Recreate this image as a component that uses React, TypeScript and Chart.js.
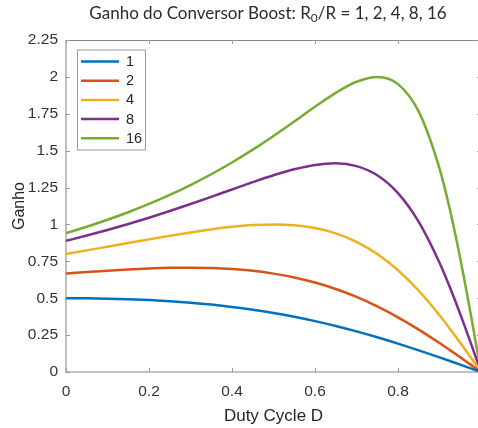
import { useEffect, useRef } from "react";
import { Chart, registerables } from "chart.js";

Chart.register(...registerables);

// Duty cycle D (x values)
const dutyCycle = [0, 0.05, 0.1, 0.15, 0.2, 0.25, 0.3, 0.35, 0.4, 0.45, 0.5, 0.55, 0.6, 0.65, 0.7, 0.75, 0.8, 0.85, 0.9, 0.925, 0.95, 0.975, 1];

// Gain curves for R0/R = 1, 2, 4, 8, 16
const gain1 = [0.5, 0.4993, 0.4972, 0.4935, 0.4878, 0.48, 0.4698, 0.4569, 0.4412, 0.4223, 0.4, 0.3742, 0.3448, 0.3118, 0.2752, 0.2353, 0.1923, 0.1467, 0.099, 0.0746, 0.0499, 0.025, 0];
const gain2 = [0.6667, 0.6774, 0.687, 0.6953, 0.7018, 0.7059, 0.7071, 0.7046, 0.6977, 0.6854, 0.6667, 0.6406, 0.6061, 0.5622, 0.5085, 0.4444, 0.3704, 0.2871, 0.1961, 0.1483, 0.0995, 0.0499, 0];
const gain4 = [0.8, 0.8243, 0.8491, 0.874, 0.8989, 0.9231, 0.9459, 0.9665, 0.9836, 0.9955, 1.0, 0.9945, 0.9756, 0.9396, 0.8824, 0.8, 0.6897, 0.5505, 0.3846, 0.2934, 0.198, 0.0998, 0];
const gain8 = [0.8889, 0.9246, 0.9626, 1.0029, 1.0458, 1.0909, 1.1382, 1.1872, 1.2371, 1.2865, 1.3333, 1.374, 1.4035, 1.4141, 1.3953, 1.3333, 1.2121, 1.0169, 0.7407, 0.5742, 0.3922, 0.199, 0];
const gain16 = [0.9412, 0.9845, 1.0315, 1.0828, 1.1388, 1.2, 1.267, 1.3402, 1.4201, 1.5068, 1.6, 1.6981, 1.7978, 1.8919, 1.9672, 2.0, 1.9512, 1.7647, 1.3793, 1.1009, 0.7692, 0.396, 0];

const seriesLabels = ["1", "2", "4", "8", "16"];
const seriesValues = [gain1, gain2, gain4, gain8, gain16];
const seriesColors = ["#0072BD", "#D95319", "#EDB120", "#7E2F8E", "#77AC30"];

const xTicks = [0, 0.2, 0.4, 0.6, 0.8, 1];
const xTickLabels = ["0", "0.2", "0.4", "0.6", "0.8", "1"];
const yTicks = [0, 0.25, 0.5, 0.75, 1, 1.25, 1.5, 1.75, 2, 2.25];
const yTickLabels = ["0", "0.25", "0.5", "0.75", "1", "1.25", "1.5", "1.75", "2", "2.25"];

const titleMain = "Ganho do Conversor Boost: R";
const titleSub = "0";
const titleRest = "/R = 1, 2, 4, 8, 16";
const xTitle = "Duty Cycle D";
const yTitle = "Ganho";

const AXIS_FONT = "'Liberation Sans', Arial, sans-serif";

const framePlugin = {
  id: "frame",
  beforeDatasetsDraw(chart: any) {
    const { ctx, chartArea } = chart;
    const { left, right, top, bottom } = chartArea;
    const xs = chart.scales.x;
    const ys = chart.scales.y;
    ctx.save();
    ctx.strokeStyle = "#8a8a8a";
    ctx.lineWidth = 1;
    ctx.beginPath();
    ctx.moveTo(left, top + 0.5);
    ctx.lineTo(right, top + 0.5);
    ctx.moveTo(right - 0.5, top);
    ctx.lineTo(right - 0.5, bottom);
    ctx.stroke();
    ctx.strokeStyle = "#b0b0b0";
    ctx.lineWidth = 1.6;
    ctx.beginPath();
    ctx.moveTo(left, top);
    ctx.lineTo(left, bottom);
    ctx.lineTo(right, bottom);
    ctx.stroke();
    ctx.strokeStyle = "#9a9a9a";
    ctx.lineWidth = 1;
    const tl = 4;
    ctx.beginPath();
    xTicks.forEach((v) => {
      const px = Math.round(xs.getPixelForValue(v)) + 0.5;
      ctx.moveTo(px, bottom);
      ctx.lineTo(px, bottom - tl);
      ctx.moveTo(px, top);
      ctx.lineTo(px, top + tl);
    });
    yTicks.forEach((v) => {
      const py = Math.round(ys.getPixelForValue(v)) + 0.5;
      ctx.moveTo(left, py);
      ctx.lineTo(left + tl, py);
      ctx.moveTo(right, py);
      ctx.lineTo(right - tl, py);
    });
    ctx.stroke();
    ctx.restore();
  },
};

const legendPlugin = {
  id: "insideLegend",
  afterDatasetsDraw(chart: any) {
    const { ctx, chartArea } = chart;
    const bx = chartArea.left + 11;
    const by = chartArea.top + 9.5;
    const bw = 68;
    const bh = 100;
    ctx.save();
    ctx.fillStyle = "#ffffff";
    ctx.fillRect(bx, by, bw, bh);
    ctx.strokeStyle = "#9a9a9a";
    ctx.lineWidth = 1;
    ctx.strokeRect(bx + 0.5, by + 0.5, bw, bh);
    ctx.font = `14.5px ${AXIS_FONT}`;
    ctx.textBaseline = "middle";
    ctx.textAlign = "left";
    chart.data.datasets.forEach((ds: any, i: number) => {
      const y = by + 12 + i * 19.2;
      ctx.strokeStyle = ds.borderColor;
      ctx.lineWidth = 2.5;
      ctx.beginPath();
      ctx.moveTo(bx + 4, y);
      ctx.lineTo(bx + 42, y);
      ctx.stroke();
      ctx.fillStyle = "#262626";
      ctx.fillText(ds.label, bx + 49, y + 0.5);
    });
    ctx.restore();
  },
};

const titlePlugin = {
  id: "subTitle",
  afterDraw(chart: any) {
    const { ctx } = chart;
    const big = "17px Lato, 'Open Sans', sans-serif";
    const small = "12px Lato, 'Open Sans', sans-serif";
    ctx.save();
    ctx.fillStyle = "#2b2b2b";
    ctx.textBaseline = "alphabetic";
    ctx.textAlign = "left";
    ctx.font = big;
    const w1 = ctx.measureText(titleMain).width;
    const w3 = ctx.measureText(titleRest).width;
    ctx.font = small;
    const w2 = ctx.measureText(titleSub).width;
    const total = w1 + w2 + w3;
    let x = 268 - total / 2;
    const base = 19;
    ctx.font = big;
    ctx.fillText(titleMain, x, base);
    x += w1;
    ctx.font = small;
    ctx.fillText(titleSub, x, base + 3);
    x += w2;
    ctx.font = big;
    ctx.fillText(titleRest, x, base);
    ctx.restore();
  },
};

export default function App() {
  const canvasRef = useRef<HTMLCanvasElement | null>(null);

  useEffect(() => {
    const canvas = canvasRef.current;
    if (!canvas) return;
    const datasets = seriesLabels.map((label, i) => ({
      label,
      data: dutyCycle.map((d, j) => ({ x: d, y: seriesValues[i][j] })),
      borderColor: seriesColors[i],
      backgroundColor: seriesColors[i],
      borderWidth: 2.5,
      pointRadius: 0,
      cubicInterpolationMode: "monotone" as const,
      fill: false,
    }));
    const chart = new Chart(canvas, {
      type: "line",
      data: { datasets },
      options: {
        animation: false,
        responsive: false,
        devicePixelRatio: 1,
        layout: { padding: { top: 40, right: 9, left: 0, bottom: 0 } },
        plugins: {
          legend: { display: false },
          title: { display: false },
          tooltip: { enabled: false },
        },
        scales: {
          x: {
            type: "linear",
            min: 0,
            max: 1,
            grid: { display: false, drawTicks: false },
            border: { display: false },
            afterBuildTicks: (scale: any) => {
              scale.ticks = xTicks.map((v) => ({ value: v }));
            },
            afterFit: (scale: any) => {
              scale.height = 56;
              scale.paddingLeft = 0;
              scale.paddingRight = 0;
            },
            ticks: {
              padding: 10,
              color: "#333333",
              font: { family: AXIS_FONT, size: 15.5 },
              maxRotation: 0,
              autoSkip: false,
              callback: (_v: any, i: number) => xTickLabels[i],
            },
            title: {
              display: true,
              text: xTitle,
              color: "#262626",
              font: { family: AXIS_FONT, size: 17 },
              padding: { top: 0, bottom: 1 },
            },
          },
          y: {
            type: "linear",
            min: 0,
            max: 2.25,
            grid: { display: false, drawTicks: false },
            border: { display: false },
            afterBuildTicks: (scale: any) => {
              scale.ticks = yTicks.map((v) => ({ value: v }));
            },
            afterFit: (scale: any) => {
              scale.width = 66;
              scale.paddingTop = 0;
              scale.paddingBottom = 0;
            },
            ticks: {
              padding: 8,
              color: "#333333",
              font: { family: AXIS_FONT, size: 15.5 },
              autoSkip: false,
              callback: (_v: any, i: number) => yTickLabels[i],
            },
            title: {
              display: true,
              text: yTitle,
              color: "#262626",
              font: { family: AXIS_FONT, size: 16 },
              padding: { top: 10, bottom: 0 },
            },
          },
        },
      },
      plugins: [framePlugin, legendPlugin, titlePlugin],
    });
    return () => chart.destroy();
  }, []);

  return (
    <div style={{ position: "fixed", left: 0, top: 0, width: 478, height: 428, overflow: "hidden", background: "#ffffff" }}>
      <canvas ref={canvasRef} width={490} height={428} style={{ display: "block", width: 490, height: 428 }} />
    </div>
  );
}
